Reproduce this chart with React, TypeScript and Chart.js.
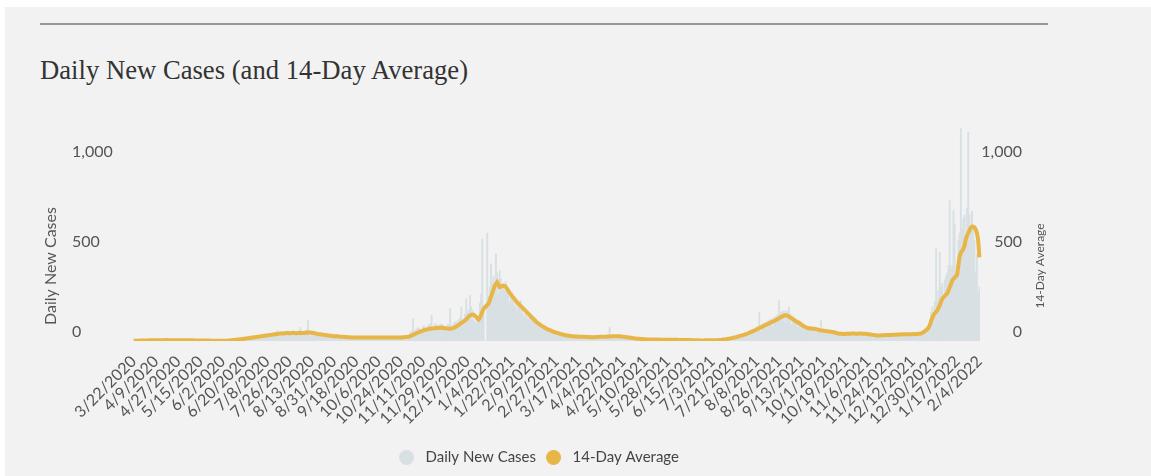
import React, { useEffect, useRef } from 'react';
import { Chart, registerables } from 'chart.js';

Chart.register(...registerables);

const TITLE = 'Daily New Cases (and 14-Day Average)';
const SERIES_BARS = 'Daily New Cases';
const SERIES_LINE = '14-Day Average';
const LEFT_AXIS_TITLE = 'Daily New Cases';
const RIGHT_AXIS_TITLE = '14-Day Average';

// first category = 3/22/2020, one category per day
const START_DATE = [2020, 3, 22];
const LABEL_EVERY_DAYS = 18;
const Y_MAX = 1200;
const Y_TICKS = [0, 500, 1000];

const dailyCases = [
  0, 2, 1, 3, 2, 4, 1, 0, 5, 3,
  4, 6, 2, 3, 0, 4, 5, 6, 5, 3,
  2, 0, 3, 6, 7, 4, 8, 2, 1, 5,
  5, 6, 3, 4, 2, 0, 4, 7, 5, 6,
  3, 2, 1, 5, 6, 4, 7, 3, 0, 2,
  4, 3, 5, 2, 1, 0, 3, 4, 6, 3,
  2, 1, 0, 2, 3, 1, 0, 0, 1, 2,
  1, 0, 2, 1, 3, 2, 4, 5, 2, 6,
  7, 3, 9, 8, 11, 12, 10, 6, 14, 15,
  16, 18, 10, 19, 22, 20, 24, 14, 26, 25,
  28, 30, 20, 27, 34, 32, 36, 22, 38, 35,
  40, 42, 28, 39, 46, 44, 58, 30, 50, 47,
  52, 48, 32, 45, 55, 50, 38, 30, 54, 58,
  49, 52, 34, 44, 60, 77, 40, 33, 50, 56,
  62, 114, 36, 30, 48, 55, 44, 28, 38, 46,
  42, 40, 24, 30, 44, 38, 32, 20, 34, 36,
  33, 30, 18, 24, 35, 30, 26, 16, 28, 30,
  27, 25, 14, 20, 28, 24, 22, 13, 24, 26,
  23, 22, 12, 20, 26, 24, 21, 14, 22, 25,
  24, 22, 13, 19, 25, 23, 20, 12, 23, 24,
  22, 21, 12, 18, 25, 22, 20, 13, 22, 24,
  21, 20, 12, 19, 26, 24, 22, 14, 25, 27,
  30, 32, 18, 34, 48, 56, 123, 40, 62, 68,
  75, 70, 48, 66, 80, 85, 74, 52, 88, 92,
  98, 142, 56, 78, 96, 90, 84, 60, 92, 95,
  90, 86, 52, 75, 94, 88, 180, 62, 90, 98,
  105, 110, 70, 118, 126, 188, 120, 98, 150, 234,
  160, 172, 253, 190, 168, 120, 110, 98, 140, 130,
  210, 260, 568, 160, 0, 0, 599, 250, 300, 429,
  320, 360, 280, 484, 380, 260, 392, 346, 300, 310,
  280, 330, 299, 250, 210, 240, 270, 220, 190, 230,
  169, 200, 190, 225, 170, 150, 132, 160, 140, 120,
  150, 130, 110, 125, 115, 100, 108, 90, 95, 85,
  80, 82, 60, 72, 70, 55, 62, 58, 50, 52,
  48, 46, 30, 45, 44, 38, 40, 32, 34, 30,
  32, 30, 20, 28, 30, 26, 28, 20, 26, 28,
  25, 24, 16, 24, 26, 22, 24, 15, 22, 25,
  22, 21, 14, 20, 24, 22, 24, 16, 24, 26,
  25, 24, 16, 26, 28, 77, 27, 17, 28, 30,
  27, 28, 18, 26, 27, 27, 24, 15, 22, 23,
  20, 18, 12, 17, 18, 15, 14, 9, 14, 13,
  12, 10, 7, 11, 12, 9, 10, 6, 10, 9,
  8, 9, 5, 8, 10, 7, 8, 4, 8, 7,
  7, 8, 4, 7, 9, 8, 6, 4, 8, 7,
  7, 6, 3, 6, 7, 5, 6, 3, 5, 6,
  5, 4, 2, 5, 5, 4, 4, 2, 3, 4,
  3, 3, 2, 4, 5, 4, 4, 2, 4, 5,
  4, 5, 2, 6, 6, 7, 9, 5, 11, 13,
  12, 14, 8, 17, 18, 22, 24, 14, 27, 30,
  32, 34, 20, 38, 40, 45, 48, 28, 55, 58,
  62, 66, 40, 72, 78, 84, 160, 50, 92, 96,
  100, 104, 64, 110, 116, 120, 124, 76, 130, 135,
  140, 148, 225, 150, 160, 165, 168, 100, 170, 160,
  188, 150, 90, 140, 130, 125, 118, 76, 114, 110,
  105, 98, 60, 90, 86, 82, 78, 52, 80, 76,
  78, 75, 46, 72, 70, 68, 114, 40, 66, 64,
  62, 60, 36, 58, 57, 56, 54, 34, 52, 48,
  46, 45, 28, 44, 46, 44, 45, 28, 46, 45,
  44, 46, 28, 45, 46, 44, 46, 28, 47, 45,
  44, 45, 27, 44, 42, 42, 40, 24, 38, 37,
  36, 35, 20, 35, 36, 36, 37, 22, 38, 37,
  37, 39, 22, 38, 40, 40, 40, 24, 42, 41,
  41, 41, 24, 42, 42, 43, 44, 26, 44, 43,
  44, 45, 26, 44, 45, 46, 48, 30, 56, 62,
  68, 74, 60, 90, 120, 160, 190, 130, 220, 512,
  230, 280, 493, 300, 320, 260, 340, 360, 380, 420,
  780, 400, 420, 725, 651, 380, 420, 560, 600, 1180,
  620, 680, 700, 560, 740, 1160, 700, 640, 720, 620,
  560, 382, 480, 271, 300,
];

const avg14Day = [
  1, 1, 2, 2, 2, 3, 3, 3, 3, 3,
  3, 3, 4, 4, 4, 4, 4, 4, 4, 4,
  4, 4, 4, 4, 4, 4, 5, 5, 4, 4,
  4, 4, 4, 4, 4, 4, 4, 4, 4, 4,
  4, 4, 4, 4, 4, 4, 4, 4, 4, 3,
  3, 3, 3, 3, 3, 3, 3, 3, 3, 3,
  3, 3, 2, 2, 2, 1, 1, 1, 1, 1,
  1, 1, 1, 1, 2, 2, 2, 3, 3, 4,
  5, 5, 6, 7, 8, 9, 10, 10, 11, 12,
  13, 14, 15, 16, 17, 18, 19, 20, 21, 22,
  23, 24, 25, 26, 27, 28, 29, 30, 31, 32,
  33, 34, 35, 36, 37, 38, 39, 40, 41, 41,
  42, 42, 43, 43, 44, 44, 43, 43, 44, 44,
  44, 43, 43, 44, 44, 44, 45, 45, 45, 46,
  46, 47, 47, 47, 46, 45, 44, 42, 41, 39,
  38, 37, 36, 35, 34, 33, 32, 31, 30, 29,
  29, 28, 27, 27, 26, 26, 25, 24, 24, 23,
  23, 22, 22, 21, 21, 21, 20, 20, 20, 20,
  20, 20, 20, 20, 20, 20, 20, 20, 19, 19,
  20, 20, 20, 20, 19, 19, 19, 19, 19, 19,
  19, 19, 19, 19, 19, 19, 19, 19, 19, 19,
  19, 19, 19, 19, 20, 20, 20, 20, 21, 21,
  22, 23, 24, 25, 28, 31, 34, 38, 41, 44,
  47, 50, 53, 55, 58, 60, 62, 64, 66, 67,
  68, 69, 70, 71, 71, 72, 72, 73, 73, 73,
  72, 72, 71, 70, 69, 68, 68, 69, 71, 73,
  76, 80, 85, 90, 95, 100, 105, 109, 114, 120,
  128, 135, 142, 145, 147, 146, 140, 134, 125, 119,
  128, 145, 162, 179, 186, 193, 200, 207, 225, 245,
  265, 285, 305, 318, 327, 315, 300, 302, 305, 308,
  306, 300, 290, 280, 268, 258, 250, 242, 233, 225,
  216, 209, 202, 195, 188, 181, 174, 167, 160, 153,
  146, 139, 132, 125, 118, 111, 104, 99, 94, 89,
  84, 80, 76, 72, 68, 65, 62, 59, 56, 53,
  50, 48, 46, 44, 42, 40, 38, 36, 34, 33,
  31, 30, 29, 28, 27, 26, 26, 25, 25, 25,
  24, 24, 24, 23, 23, 23, 22, 22, 22, 22,
  21, 21, 21, 21, 22, 22, 22, 23, 23, 23,
  24, 24, 24, 25, 25, 25, 25, 26, 26, 26,
  26, 26, 26, 26, 25, 25, 24, 23, 22, 21,
  20, 19, 18, 17, 16, 15, 14, 13, 13, 12,
  11, 11, 10, 10, 10, 9, 9, 9, 9, 8,
  8, 8, 8, 8, 8, 7, 7, 7, 7, 7,
  7, 7, 7, 7, 7, 7, 7, 7, 7, 7,
  7, 6, 6, 6, 6, 5, 5, 5, 5, 5,
  5, 4, 4, 4, 4, 4, 4, 4, 3, 3,
  3, 3, 4, 4, 4, 4, 4, 4, 4, 4,
  4, 4, 4, 5, 5, 6, 7, 8, 9, 10,
  11, 12, 13, 15, 16, 18, 19, 21, 23, 25,
  27, 29, 31, 33, 35, 38, 40, 43, 46, 49,
  52, 55, 58, 61, 65, 68, 71, 75, 78, 81,
  85, 88, 92, 95, 98, 101, 105, 108, 111, 115,
  118, 122, 126, 130, 135, 138, 141, 143, 142, 140,
  136, 131, 127, 122, 117, 112, 108, 104, 100, 96,
  91, 86, 82, 78, 75, 72, 71, 70, 69, 68,
  68, 67, 66, 64, 62, 60, 59, 58, 57, 56,
  55, 54, 53, 52, 51, 50, 49, 47, 45, 43,
  41, 40, 40, 40, 39, 39, 40, 40, 40, 40,
  40, 41, 41, 41, 40, 40, 40, 41, 41, 40,
  40, 40, 40, 39, 38, 37, 36, 35, 34, 33,
  32, 31, 31, 31, 31, 32, 32, 32, 33, 33,
  33, 34, 34, 34, 35, 35, 35, 35, 36, 36,
  36, 36, 37, 37, 37, 37, 38, 38, 38, 38,
  38, 39, 39, 39, 39, 40, 40, 42, 46, 50,
  55, 60, 66, 75, 90, 110, 130, 145, 155, 163,
  170, 185, 200, 218, 235, 242, 250, 258, 265, 280,
  299, 315, 335, 345, 352, 360, 368, 420, 470, 490,
  500, 512, 530, 565, 585, 600, 615, 630, 636, 635,
  632, 620, 600, 560, 465,
];

const BAR_COLOR = '#d8e0e4';
const LINE_COLOR = '#e8b547';
const TEXT_COLOR = '#555';
const FONT = 'Lato';

function buildDateLabels(n: number): string[] {
  const out: string[] = [];
  for (let i = 0; i < n; i++) {
    const d = new Date(Date.UTC(START_DATE[0], START_DATE[1] - 1, START_DATE[2] + i));
    out.push(`${d.getUTCMonth() + 1}/${d.getUTCDate()}/${d.getUTCFullYear()}`);
  }
  return out;
}

function makeDot(color: string) {
  const c = document.createElement('canvas');
  c.width = 19;
  c.height = 15;
  const g = c.getContext('2d')!;
  g.fillStyle = color;
  g.beginPath();
  g.arc(7.5, 7.5, 7.5, 0, Math.PI * 2);
  g.fill();
  return c;
}

const axisTitlesPlugin = {
  id: 'axisTitles',
  afterLayout(chart: any) {
    if (chart.legend) {
      chart.legend.left -= 8;
      chart.legend.right -= 8;
    }
  },
  afterDraw(chart: any) {
    const { ctx, chartArea } = chart;
    const cy = chartArea.bottom - 75;
    ctx.save();
    ctx.fillStyle = TEXT_COLOR;
    ctx.textAlign = 'center';
    ctx.textBaseline = 'middle';
    ctx.font = `16px ${FONT}`;
    ctx.translate(chartArea.left - 82, cy);
    ctx.rotate(-Math.PI / 2);
    ctx.fillText(LEFT_AXIS_TITLE, 0, 0);
    ctx.restore();
    ctx.save();
    ctx.fillStyle = TEXT_COLOR;
    ctx.textAlign = 'center';
    ctx.textBaseline = 'middle';
    ctx.font = `12px ${FONT}`;
    ctx.translate(chartArea.right + 60, cy);
    ctx.rotate(-Math.PI / 2);
    ctx.fillText(RIGHT_AXIS_TITLE, 0, 0);
    ctx.restore();
  },
};

export default function App() {
  const canvasRef = useRef<HTMLCanvasElement>(null);

  useEffect(() => {
    if (!canvasRef.current) return;
    const labels = buildDateLabels(dailyCases.length);
    const dots = [makeDot(BAR_COLOR), makeDot(LINE_COLOR)];
    const yScaleBase = {
      min: 0,
      max: Y_MAX,
      grid: { display: false, drawTicks: false },
      border: { display: false },
      afterBuildTicks: (scale: any) => {
        scale.ticks = Y_TICKS.map((v) => ({ value: v }));
      },
      ticks: {
        color: TEXT_COLOR,
        font: { family: FONT, size: 16 },
        labelOffset: -9,
        crossAlign: 'far' as const,
        padding: 0,
      },
    };
    const chart = new Chart(canvasRef.current, {
      type: 'bar',
      data: {
        labels,
        datasets: [
          {
            type: 'bar',
            label: SERIES_BARS,
            data: dailyCases,
            backgroundColor: BAR_COLOR,
            barPercentage: 1,
            categoryPercentage: 1,
            yAxisID: 'y',
            order: 2,
          },
          {
            type: 'line',
            label: SERIES_LINE,
            data: avg14Day,
            borderColor: LINE_COLOR,
            backgroundColor: LINE_COLOR,
            borderWidth: 4,
            pointRadius: 0,
            tension: 0,
            yAxisID: 'y1',
            order: 1,
          },
        ],
      },
      options: {
        animation: false,
        responsive: true,
        maintainAspectRatio: false,
        layout: { padding: { left: 67, right: 129, top: 25, bottom: 1 } },
        plugins: {
          title: { display: false },
          tooltip: { enabled: false },
          legend: {
            position: 'bottom',
            labels: {
              usePointStyle: true,
              pointStyleWidth: 19,
              color: '#444',
              font: { family: FONT, size: 15 },
              padding: 10,
              generateLabels: () => [
                { text: SERIES_BARS, fillStyle: BAR_COLOR, strokeStyle: 'transparent', lineWidth: 0, pointStyle: dots[0], hidden: false, datasetIndex: 0, fontColor: '#444' },
                { text: SERIES_LINE, fillStyle: LINE_COLOR, strokeStyle: 'transparent', lineWidth: 0, pointStyle: dots[1], hidden: false, datasetIndex: 1, fontColor: '#444' },
              ] as any,
            },
          },
        },
        scales: {
          x: {
            type: 'category',
            offset: true,
            grid: { display: false },
            border: { display: false },
            ticks: {
              autoSkip: false,
              minRotation: 45,
              maxRotation: 45,
              color: TEXT_COLOR,
              font: { family: FONT, size: 16 },
            },
            afterBuildTicks: (scale: any) => {
              scale.ticks = scale.ticks.filter((t: any) => t.value % LABEL_EVERY_DAYS === 0);
            },
            afterFit: (scale: any) => {
              scale.height = 99;
            },
          },
          y: {
            ...yScaleBase,
            position: 'left',
            afterFit: (scale: any) => {
              scale.width = 61;
            },
          },
          y1: {
            ...yScaleBase,
            position: 'right',
            afterFit: (scale: any) => {
              scale.width = 42;
            },
          },
        } as any,
      },
      plugins: [axisTitlesPlugin],
    } as any);
    return () => chart.destroy();
  }, []);

  return (
    <div
      style={{
        position: 'absolute',
        left: 5,
        top: 7,
        width: 1146,
        height: 469,
        background: '#f2f2f2',
        overflow: 'hidden',
      }}
    >
      <div style={{ position: 'absolute', left: 35, top: 16, width: 1008, height: 2, background: '#999' }} />
      <div
        style={{
          position: 'absolute',
          left: 35,
          top: 50,
          fontFamily: '"Liberation Serif", "Times New Roman", serif',
          fontSize: 26.67,
          lineHeight: '27px',
          color: '#333',
          whiteSpace: 'nowrap',
        }}
      >
        {TITLE}
      </div>
      <div style={{ position: 'absolute', left: 0, top: 93, width: 1146, height: 376 }}>
        <canvas ref={canvasRef} />
      </div>
    </div>
  );
}
